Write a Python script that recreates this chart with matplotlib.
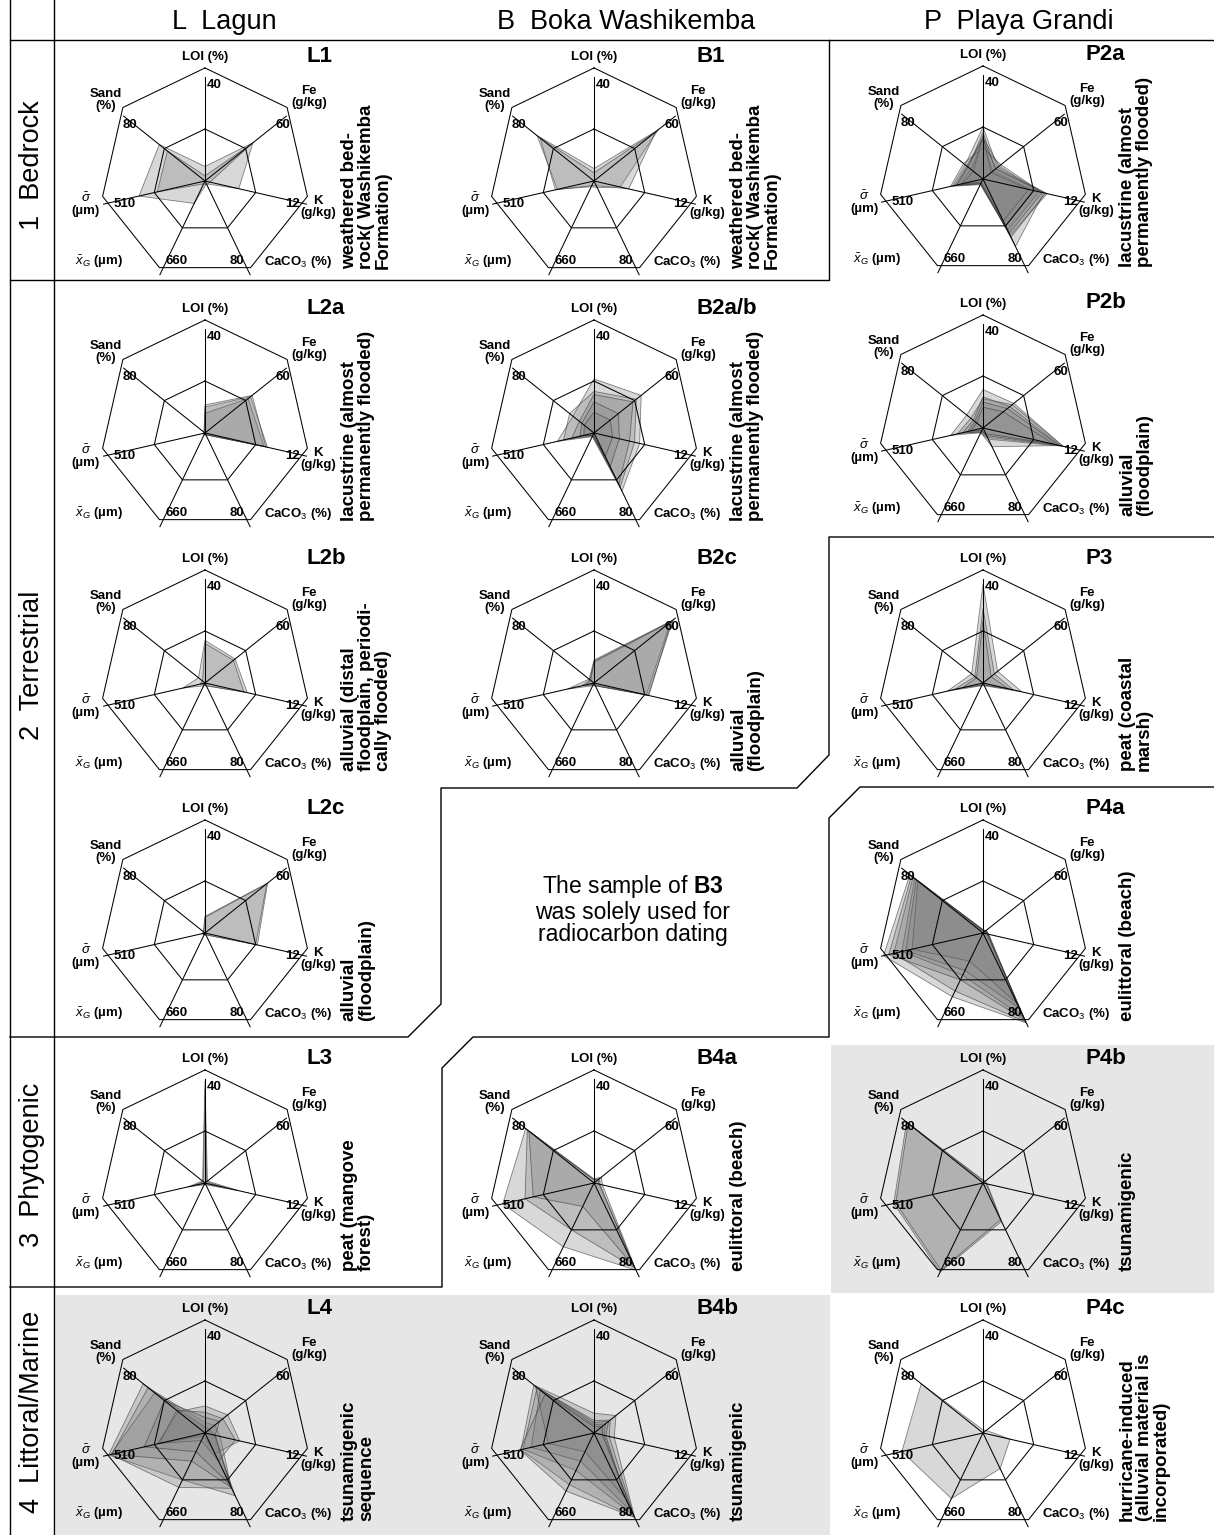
import numpy as np
import matplotlib.pyplot as plt

plt.rcParams['font.family'] = 'Liberation Sans'
plt.rcParams['mathtext.fontset'] = 'custom'
plt.rcParams['mathtext.rm'] = 'Liberation Sans'
plt.rcParams['mathtext.it'] = 'Liberation Sans:italic'
plt.rcParams['mathtext.bf'] = 'Liberation Sans:bold'

# spider axes, clockwise from the top, and the value at the outer ring
axis_max = [40, 60, 12, 80, 660, 510, 80]
axis_labels = ['LOI (%)', 'Fe\n(g/kg)', 'K\n(g/kg)', 'CaCO$_3$ (%)',
               '$\\bar{x}_G$ (µm)', '$\\bar{\\sigma}$\n(µm)', 'Sand\n(%)']
max_labels = ['40', '60', '12', '80', '660', '510', '80']

# one row per sample: LOI %, Fe g/kg, K g/kg, CaCO3 %, mean grain size µm, sorting µm, sand %
L1 = [[5.6, 35.4, 4.0, 2.4, 158, 332, 45.0],
      [2.0, 34.2, 0.6, 3.2, 20, 240, 37.0]]
B1 = [[4.8, 47.4, 3.1, 5.6, 40, 184, 56.0],
      [3.2, 45.6, 4.1, 4.0, 33, 194, 53.0]]
P2a = [[20.0, 10.8, 7.6, 48.0, 33, 153, 17.6],
       [18.0, 9.0, 7.2, 57.6, 26, 128, 14.4],
       [16.0, 12.0, 6.6, 44.0, 33, 143, 16.0],
       [14.0, 7.2, 6.0, 40.0, 20, 112, 12.0],
       [12.0, 13.2, 7.0, 46.4, 40, 163, 19.2],
       [16.8, 6.0, 5.4, 36.0, 26, 102, 9.6],
       [15.2, 9.6, 7.4, 49.6, 33, 133, 15.2]]
L2a = [[10.0, 33.6, 7.4, 1.6, 13, 5, 0.8],
       [7.6, 31.8, 7.0, 1.2, 10, 5, 0.8],
       [10.8, 34.8, 7.2, 1.6, 13, 8, 1.0]]
B2ab = [[20.8, 34.8, 5.4, 49.6, 26, 184, 20.8],
        [16.0, 31.2, 4.8, 46.4, 20, 153, 24.0],
        [14.8, 28.8, 4.2, 44.0, 13, 112, 14.4],
        [12.0, 18.0, 3.0, 28.8, 13, 71, 12.0],
        [8.0, 12.0, 2.2, 20.0, 20, 51, 9.6]]
P2b = [[14.8, 22.8, 9.5, 9.6, 33, 163, 16.0],
       [11.2, 21.6, 9.4, 8.0, 26, 128, 12.0],
       [12.0, 19.8, 9.1, 16.0, 33, 102, 9.6],
       [10.0, 18.0, 8.9, 6.4, 20, 77, 8.0],
       [8.0, 15.0, 8.4, 4.8, 20, 61, 6.4]]
L2b = [[16.4, 22.2, 5.0, 2.4, 20, 112, 6.4],
       [15.2, 21.0, 4.6, 2.4, 13, 26, 2.4]]
B2c = [[8.8, 58.2, 6.4, 2.4, 20, 133, 4.8],
       [8.0, 56.4, 6.2, 2.4, 13, 61, 4.0],
       [8.4, 57.0, 6.5, 1.6, 13, 41, 3.2]]
P3 = [[38.0, 10.8, 4.6, 2.4, 20, 179, 11.2],
      [28.8, 8.4, 3.6, 1.6, 13, 143, 8.0],
      [24.0, 6.0, 3.0, 1.6, 13, 102, 6.4]]
L2c = [[6.4, 46.2, 6.2, 1.6, 13, 15, 1.6],
       [6.0, 45.6, 6.0, 1.6, 13, 12, 1.2]]
P4a = [[1.2, 1.8, 0.5, 76.8, 449, 500, 72.0],
       [1.2, 2.4, 0.6, 76.0, 409, 449, 68.8],
       [0.8, 1.8, 0.6, 72.0, 297, 408, 67.2],
       [1.2, 1.8, 0.5, 64.0, 264, 388, 65.6],
       [0.8, 2.4, 0.7, 60.0, 198, 357, 64.0],
       [1.2, 1.2, 0.5, 74.4, 330, 474, 70.4]]
L3 = [[39.2, 1.8, 4.0, 1.6, 13, 87, 2.4],
      [36.0, 1.2, 2.4, 0.8, 7, 61, 1.6]]
B4a = [[1.6, 5.4, 1.0, 74.4, 449, 459, 67.2],
       [1.2, 4.2, 0.7, 72.8, 330, 347, 65.6],
       [1.2, 3.0, 0.6, 72.0, 165, 306, 64.0]]
P4b = [[1.2, 1.8, 0.5, 32.8, 627, 449, 75.2],
       [0.8, 1.2, 0.4, 31.2, 614, 439, 73.6]]
L4 = [[2.0, 3.0, 1.0, 53.6, 330, 485, 60.8],
      [2.4, 3.6, 1.2, 47.2, 383, 474, 49.6],
      [4.0, 7.2, 1.8, 46.4, 198, 469, 56.0],
      [10.4, 16.8, 4.1, 17.6, 20, 240, 26.4],
      [8.0, 13.2, 3.6, 24.0, 53, 230, 28.0],
      [6.0, 10.8, 1.2, 44.0, 132, 306, 40.0]]
B4b = [[7.6, 16.2, 2.4, 72.0, 363, 367, 59.2],
       [4.8, 12.0, 1.8, 70.4, 264, 357, 56.0],
       [3.2, 8.4, 1.2, 68.0, 198, 316, 52.8],
       [4.0, 10.8, 1.4, 56.0, 132, 230, 57.6],
       [2.4, 6.0, 1.0, 72.0, 409, 372, 48.0]]
P4c = [[1.2, 2.4, 3.2, 30.4, 462, 408, 60.8]]

bedrock = 'weathered bed-\nrock( Washikemba\nFormation)'
lacustrine = 'lacustrine (almost\npermanently flooded)'
floodplain = 'alluvial\n(floodplain)'
beach = 'eulittoral (beach)'

# name, samples, facies, centre of the spider in pixels (x, y from top)
panels = [
    ('L1', L1, bedrock, 205, 181),
    ('B1', B1, bedrock, 594, 181),
    ('P2a', P2a, lacustrine, 983, 179),
    ('L2a', L2a, lacustrine, 205, 433),
    ('B2a/b', B2ab, lacustrine, 594, 433),
    ('P2b', P2b, floodplain, 983, 428),
    ('L2b', L2b, 'alluvial (distal\nfloodplain, periodi-\ncally flooded)', 205, 683),
    ('B2c', B2c, floodplain, 594, 683),
    ('P3', P3, 'peat (coastal\nmarsh)', 983, 683),
    ('L2c', L2c, floodplain, 205, 933),
    ('P4a', P4a, beach, 983, 933),
    ('L3', L3, 'peat (mangove\nforest)', 205, 1183),
    ('B4a', B4a, beach, 594, 1183),
    ('P4b', P4b, 'tsunamigenic', 983, 1183),
    ('L4', L4, 'tsunamigenic\nsequence', 205, 1433),
    ('B4b', B4b, 'tsunamigenic', 594, 1433),
    ('P4c', P4c, 'hurricane-induced\n(alluvial material is\nincorporated)', 983, 1433),
]

W, H = 1214, 1535
R = 104  # spoke length in pixels
theta = np.arange(7) * 2 * np.pi / 7
tc = np.append(theta, theta[0])

# pixel offsets of axis names and outer-ring values from the spider centre
name_pos = [(0, -124), (104, -84), (113, 26), (93, 81), (-106, 81), (-119, 23), (-99, -81)]
max_pos = [(2, -96), (78, -56), (87, 23), (32, 80), (-28, 80), (-80, 23), (-75, -56)]

fig = plt.figure(figsize=(W / 100, H / 100), dpi=100)
fig.patch.set_facecolor('white')

# background layer: shading, frames and headings in pixel units
bg = fig.add_axes([0, 0, 1, 1])
bg.set_xlim(0, W)
bg.set_ylim(H, 0)
bg.axis('off')

shade = '#e6e6e6'
bg.fill([56, 830, 830, 56], [1295, 1295, H, H], color=shade, lw=0)
bg.fill([831, W, W, 831], [1045, 1045, 1293, 1293], color=shade, lw=0)

frame = dict(color='black', lw=1.0)
bg.plot([10, 10], [0, H], **frame)
bg.plot([54, 54], [0, H], **frame)
bg.plot([10, W], [40, 40], **frame)
bg.plot([10, 829, 829], [280, 280, 40], **frame)
bg.plot([10, 408, 441, 441, 797, 829, 829, W],
        [1037, 1037, 1004, 788, 788, 755, 537, 537], **frame)
bg.plot([W, 860, 829, 829, 473, 442, 442, 10],
        [787, 787, 818, 1037, 1037, 1068, 1287, 1287], **frame)

for txt, x in [('L  Lagun', 224), ('B  Boka Washikemba', 626), ('P  Playa Grandi', 1019)]:
    bg.text(x, 22, txt, ha='center', va='center', fontsize=19.5)
for txt, y in [('1  Bedrock', 165), ('2  Terrestrial', 665),
               ('3  Phytogenic', 1165), ('4  Littoral/Marine', 1412)]:
    bg.text(32, y, txt, ha='center', va='center', rotation=90, fontsize=19.5)

bg.text(633, 910, 'The sample of $\\mathbf{B3}$\nwas solely used for\nradiocarbon dating',
        ha='center', va='center', fontsize=16.5, linespacing=1.0, multialignment='center')


def put(ax, s, dx, dy, **kw):
    ax.annotate(s, xy=(0.5, 0.5), xycoords='axes fraction', xytext=(dx, -dy),
                textcoords='offset pixels', annotation_clip=False, **kw)


for name, samples, facies, cx, cy in panels:
    ax = fig.add_axes([(cx - R) / W, 1 - (cy + R) / H, 2 * R / W, 2 * R / H],
                      projection='polar')
    ax.set_theta_offset(np.pi / 2)
    ax.set_theta_direction(-1)
    ax.axis('off')
    ax.patch.set_alpha(0)

    for s in samples:
        r = np.array(s) / np.array(axis_max)
        ax.fill(tc, np.append(r, r[0]), facecolor=(0.5, 0.5, 0.5, 0.3),
                edgecolor=(0.2, 0.2, 0.2, 0.6), lw=0.6, zorder=2, clip_on=False)

    grid = dict(color='black', lw=0.75, zorder=3, clip_on=False)
    for a in theta:
        ax.plot([a, a], [0, 1], **grid)
    ax.plot(tc, np.full(8, 0.5), **grid)
    # outer ring is drawn slightly above the spoke centre
    ox = 1.01 * np.sin(tc)
    oy = 1.01 * np.cos(tc) + 0.077
    ax.plot(np.arctan2(ox, oy), np.hypot(ox, oy), **grid)
    ax.set_ylim(0, 1)

    for lab, (dx, dy) in zip(axis_labels, name_pos):
        put(ax, lab, dx, dy, ha='center', va='center', fontsize=9.5,
            fontweight='bold', linespacing=0.95)
    for i, (lab, (dx, dy)) in enumerate(zip(max_labels, max_pos)):
        put(ax, lab, dx, dy, ha='left' if i == 0 else 'center', va='center',
            fontsize=9.5, fontweight='bold')
    put(ax, name, 102, -125, ha='left', va='center', fontsize=16, fontweight='bold')
    put(ax, facies, 136, 88, ha='left', va='bottom', rotation=90, fontsize=13.5,
        fontweight='bold', linespacing=1.0, multialignment='left')

fig.savefig('out.png', dpi=100)
